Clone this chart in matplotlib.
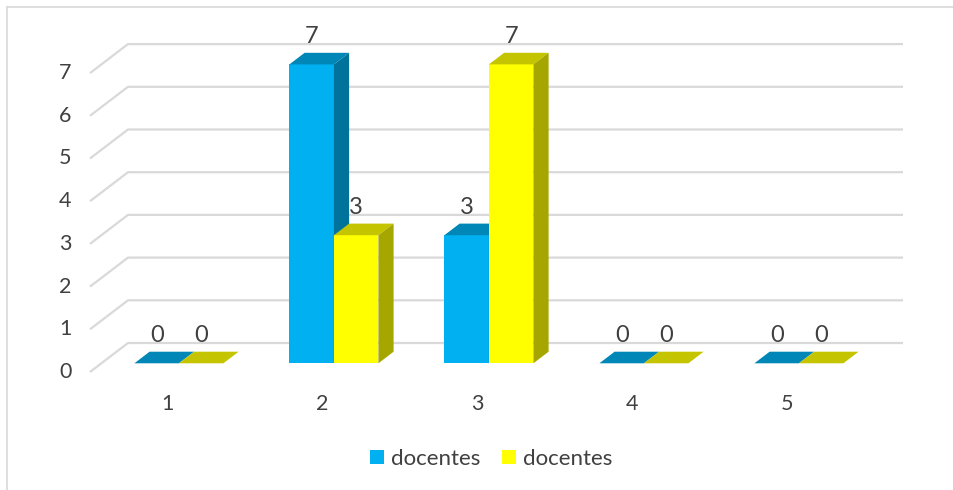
import matplotlib
matplotlib.use("Agg")
import matplotlib.pyplot as plt
from matplotlib.patches import Polygon, Rectangle
import numpy as np

plt.rcParams['font.family'] = ['Lato', 'DejaVu Sans']

categories = ["1", "2", "3", "4", "5"]
series_names = ["docentes", "docentes"]
values_a = [0, 7, 3, 0, 0]
values_b = [0, 3, 7, 0, 0]
yticks = [0, 1, 2, 3, 4, 5, 6, 7]

front_colors = ["#00B0F0", "#FFFF00"]
top_colors = ["#0087B8", "#C4C400"]
side_colors = ["#00739C", "#A6A600"]
grid_color = "#D9D9D9"
text_color = "#404040"

W, H = 954, 490
fig = plt.figure(figsize=(W / 100, H / 100), dpi=100)
ax = fig.add_axes([0, 0, 1, 1])
ax.set_axis_off()

# pixel mapping: front-plane category i center at 167.5 + 155 i ; value v at y(bottom-up) = 118 + 42.7 v
px_cat, x0px = 155.0, 167.5
px_val, y0px = 42.7, 118.0
ax.set_xlim(-x0px / px_cat, (W - x0px) / px_cat)
ax.set_ylim(-y0px / px_val, (H - y0px) / px_val)

DX = 38.0 / px_cat   # depth offset in category units
DY = 29.0 / px_val   # depth offset in value units
ncat = len(categories)
left, right = -0.5, ncat - 0.5

# gridlines (floor diagonal + back wall)
for t in yticks:
    ax.plot([left, left + DX, right + DX], [t, t + DY, t + DY],
            color=grid_color, lw=1.6, solid_capstyle='butt', zorder=1)
    ax.text(left - 0.12, t, str(t), ha='right', va='center', fontsize=15.5,
            color=text_color)

for i, c in enumerate(categories):
    ax.text(i, -0.75, c, ha='center', va='center', fontsize=15.5, color=text_color)

# bars
f0, f1 = 0.30, 0.70
bw = 44.5 / px_cat
x = np.arange(ncat)
series = [values_a, values_b]
for s, vals in enumerate(series):
    xc = x + (s - 0.5) * bw + f0 * DX
    vals = np.array(vals, dtype=float)
    ax.bar(xc, vals, width=bw, bottom=f0 * DY, color=front_colors[s],
           edgecolor='none', zorder=3 + s)
    ddx = (f1 - f0) * DX
    ddy = (f1 - f0) * DY
    for xi, v in zip(xc, vals):
        xl, xr = xi - bw / 2, xi + bw / 2
        yt = v + f0 * DY
        yb = f0 * DY
        top = Polygon([[xl, yt], [xr, yt], [xr + ddx, yt + ddy], [xl + ddx, yt + ddy]],
                      closed=True, facecolor=top_colors[s], edgecolor='none', zorder=3 + s)
        ax.add_patch(top)
        if v > 0:
            side = Polygon([[xr, yb], [xr + ddx, yb + ddy], [xr + ddx, yt + ddy], [xr, yt]],
                           closed=True, facecolor=side_colors[s], edgecolor='none',
                           zorder=3 + s)
            ax.add_patch(side)
        ax.annotate(f"{int(v)}", (xi, v + f1 * DY), xytext=(0, 11.5),
                    textcoords='offset points', ha='center', va='center',
                    fontsize=17, color=text_color, zorder=10)

# border lines (chart frame)
ax.plot([6.5 / px_cat + ax.get_xlim()[0]] * 2,
        [ax.get_ylim()[0], (H - 7 - y0px) / px_val], color="#D9D9D9", lw=1.2)
ax.plot([6.5 / px_cat + ax.get_xlim()[0], ax.get_xlim()[1]],
        [(H - 7 - y0px) / px_val] * 2, color="#D9D9D9", lw=1.2)

# legend
handles = [Rectangle((0, 0), 1, 1, facecolor=front_colors[k], edgecolor='none')
           for k in range(2)]
fig.legend(handles, series_names, loc='center', bbox_to_anchor=(491 / W, 1 - 459 / H),
           ncol=2, frameon=False, fontsize=16, handlelength=0.63, handleheight=0.63,
           handletextpad=0.3, columnspacing=1.0, labelcolor=text_color)

fig.savefig("out.png", dpi=100)
